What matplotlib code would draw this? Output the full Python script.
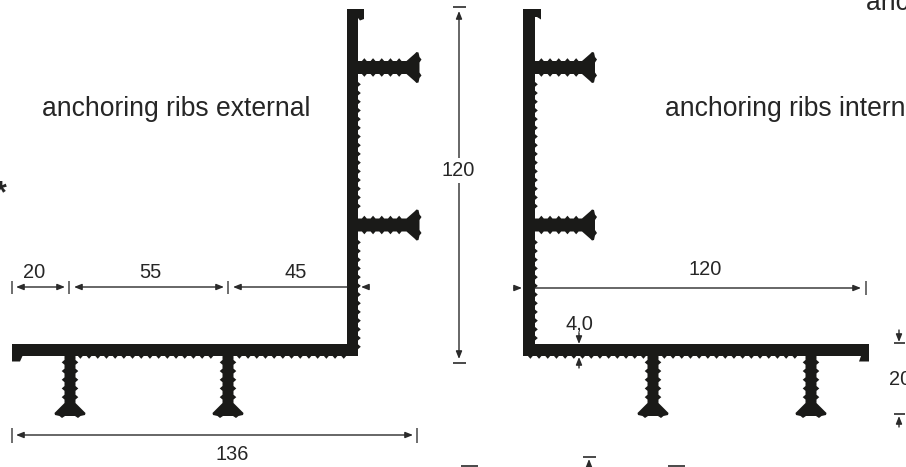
import matplotlib
matplotlib.use("Agg")
import matplotlib.pyplot as plt
from matplotlib.patches import Polygon
import numpy as np

plt.rcParams['font.family'] = ['Liberation Sans', 'DejaVu Sans']

INK = '#1a1a18'
LINE = '#2a2a2a'
TEXT = '#262626'

# dimension labels
labels_top = ['anchoring ribs external', 'anchoring ribs internal', 'anchoring ribs']
dim_left = ['20', '55', '45', '136', '120']
dim_right = ['120', '4,0', '20']

# rib positions in the drawing (px)
ribs_left_v = [67.5, 225]
ribs_left_h = [70, 228]
ribs_right_v = [67.5, 225]
ribs_right_h = [653, 811]


def teeth_h(x0, x1, y, d, pitch=8.7, h=2.8):
    # zigzag along a horizontal edge, d = +1 teeth go down
    pts = []
    for x in np.arange(x0, x1 - pitch * 0.7, pitch):
        pts += [(x, y), (x + pitch * 0.22, y), (x + pitch * 0.5, y + d * h), (x + pitch * 0.78, y)]
    pts.append((x1, y))
    return pts


def teeth_v(y0, y1, x, d, pitch=8.7, h=2.8):
    return [(px, py) for py, px in teeth_h(y0, y1, x, d, pitch, h)]


def rib_right(x0, yc, x_end, hw):
    # rib sticking out to the right, with a flared head
    hd = x_end - 15
    top = teeth_h(x0 + 4, hd - 1, yc - hw, -1)
    bot = teeth_h(x0 + 4, hd - 1, yc + hw, 1)
    head = [(hd, yc - hw), (x_end - 7, yc - 13.5), (x_end - 5, yc - 15.5), (x_end - 3, yc - 15), (x_end - 2, yc - 10.5),
            (x_end, yc - 8), (x_end - 2, yc - 5), (x_end - 2, yc + 5), (x_end, yc + 8),
            (x_end - 2, yc + 10.5), (x_end - 3, yc + 15), (x_end - 5, yc + 15.5), (x_end - 7, yc + 13.5),
            (hd, yc + hw)]
    return [(x0, yc - hw)] + top + head + bot[::-1] + [(x0, yc + hw)]


fig = plt.figure(figsize=(9.06, 4.67), dpi=100)
ax = fig.add_axes([0, 0, 1, 1])
ax.set_xlim(0, 906)
ax.set_ylim(467, 0)
ax.axis('off')


def fill(pts):
    ax.add_patch(Polygon(pts, closed=True, fc=INK, ec='none', lw=0))


# left profile
fill([(347, 9), (364, 9), (364, 19), (360, 20.5), (358, 18), (358, 356), (347, 356)])
fill([(12, 344), (358, 344), (358, 356), (22.5, 356), (20, 361.5), (12, 361.5)])
fill([(350, 80)] + teeth_v(80, 212, 358, 1) + [(350, 212)])
fill([(350, 238)] + teeth_v(238, 350, 358, 1) + [(350, 350)])
fill([(76, 352)] + teeth_h(76, 221, 356, 1) + [(221, 352)])
fill([(235, 352)] + teeth_h(235, 354, 356, 1) + [(354, 352)])
for yc in ribs_left_v:
    fill(rib_right(356, yc, 421.5, 6.5))
for xc in ribs_left_h:
    fill([(xc + py, px) for px, py in rib_right(354, 0, 418, 5.5)])

# right profile
fill([(523, 9), (541, 9), (541, 19.5), (537, 17), (535, 17), (535, 356), (523, 356)])
fill([(523, 344), (869, 344), (869, 361.5), (859, 361.5), (861, 356), (523, 356)])
fill([(530, 80)] + teeth_v(80, 212, 535, 1) + [(530, 212)])
fill([(530, 238)] + teeth_v(238, 344, 535, 1) + [(530, 344)])
fill([(526, 352)] + teeth_h(526, 646, 356, 1) + [(646, 352)])
fill([(660, 352)] + teeth_h(660, 804, 356, 1) + [(804, 352)])
for yc in ribs_right_v:
    fill(rib_right(533, yc, 597, 6.5))
for xc in ribs_right_h:
    fill([(xc + py, px) for px, py in rib_right(354, 0, 418, 5.5)])


def tick_v(x, y0, y1):
    ax.plot([x, x], [y0, y1], color='#555555', lw=1.2, solid_capstyle='butt')


def tick_h(y, x0, x1):
    ax.plot([x0, x1], [y, y], color=LINE, lw=1.2, solid_capstyle='butt')


def arrow(x0, y0, x1, y1, both=False):
    style = '<|-|>' if both else '-|>'
    ax.annotate('', xy=(x1, y1), xytext=(x0, y0),
                arrowprops=dict(arrowstyle=style + ',head_length=0.45,head_width=0.18',
                                color=LINE, lw=1.0, shrinkA=0, shrinkB=0, mutation_scale=10))


# left dimensions
for x in (12, 69, 228):
    tick_v(x, 281, 294)
arrow(16, 287, 65, 287, both=True)
arrow(74, 287, 224, 287, both=True)
arrow(347, 287, 233, 287)
arrow(369, 287, 361, 287)
tick_v(12, 428, 443)
tick_v(417, 428, 443)
arrow(16, 435, 413, 435, both=True)
tick_h(7, 453, 466)
tick_h(363, 453, 466)
arrow(459, 359, 459, 11, both=True)

# right dimensions
arrow(514, 288, 522, 288)
arrow(535, 288, 861, 288)
tick_v(866, 281, 295)
arrow(579, 333, 579, 344)
arrow(579, 368, 579, 357)
tick_h(343, 894, 905)
tick_h(414, 894, 905)
arrow(899, 330, 899, 342)
arrow(899, 427, 899, 416)

# stubs cut by the bottom edge
tick_h(466, 461, 478)
tick_h(457, 583, 596)
tick_h(466, 668, 685)
arrow(589, 467, 589, 459)

FS = 19.1
DS = 14.4
ax.text(41.5, 116.5, labels_top[0], fontsize=FS, color=TEXT, ha='left', va='baseline')
ax.text(665, 116.5, labels_top[1], fontsize=FS, color=TEXT, ha='left', va='baseline', clip_on=True)
ax.text(866, 9.5, labels_top[2], fontsize=FS, color=TEXT, ha='left', va='baseline', clip_on=True)
ax.text(0.5, 202, '*', fontsize=22, fontweight='bold', color=TEXT, ha='center', va='baseline')

ax.text(34, 278, dim_left[0], fontsize=DS, color=TEXT, ha='center', va='baseline')
ax.text(150, 278, dim_left[1], fontsize=DS, color=TEXT, ha='center', va='baseline')
ax.text(296, 278, dim_left[2], fontsize=DS, color=TEXT, ha='center', va='baseline')
ax.text(232, 460.5, dim_left[3], fontsize=DS, color=TEXT, ha='center', va='baseline')
ax.text(458.5, 176, dim_left[4], fontsize=DS, color=TEXT, ha='center', va='baseline',
        bbox=dict(fc='white', ec='none', pad=2), zorder=5)
ax.text(705, 275, dim_right[0], fontsize=DS, color=TEXT, ha='center', va='baseline')
ax.text(579, 329, dim_right[1], fontsize=DS, color=TEXT, ha='center', va='baseline')
ax.text(889, 385, dim_right[2], fontsize=DS, color=TEXT, ha='left', va='baseline', clip_on=True)

fig.savefig('out.png', dpi=100)
